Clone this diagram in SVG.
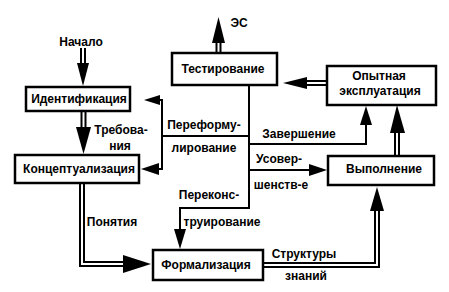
<svg xmlns="http://www.w3.org/2000/svg" width="449" height="292" viewBox="0 0 449 292">
<style>
  .box { fill: #fff; stroke: #000; stroke-width: 2.5; }
  .t { font-family: "Liberation Sans", Arial, sans-serif; font-size: 12px; font-weight: bold; fill: #000; text-anchor: middle; }
  .line { fill: none; stroke: #000; stroke-width: 2; }
  .dblo { fill: none; stroke: #000; stroke-width: 6; stroke-linejoin: miter; }
  .dbli { fill: none; stroke: #fff; stroke-width: 2; stroke-linejoin: miter; }
  .head { fill: #000; stroke: none; }
</style>
<rect width="449" height="292" fill="#fff"/>
<g id="connectors">
  <!-- double connectors -->
  <path class="dblo" d="M83,48 V64"/><path class="dbli" d="M83,48 V64"/>
  <polygon class="head" points="77,63 89,63 83,86"/>
  <path class="dblo" d="M83.5,112 V128"/><path class="dbli" d="M83.5,112 V128"/>
  <polygon class="head" points="76,127 91,127 83.5,154"/>
  <path class="dblo" d="M82,184 V264 H124"/><path class="dbli" d="M82,184 V264 H124"/>
  <polygon class="head" points="123,255 123,273 151,264"/>
  <path class="dblo" d="M264,265 H377 V210"/><path class="dbli" d="M264,265 H377 V210"/>
  <polygon class="head" points="370,211 384,211 377,187"/>
  <path class="dblo" d="M397,155 V132"/><path class="dbli" d="M397,155 V132"/>
  <polygon class="head" points="390,133 405,133 397,105"/>
  <path class="dblo" d="M326,83 H306"/><path class="dbli" d="M326,83 H306"/>
  <polygon class="head" points="307,77 307,89 283,83"/>
  <path class="dblo" d="M218.5,52 V42"/><path class="dbli" d="M218.5,52 V42"/>
  <polygon class="head" points="212,43 225,43 218.5,17"/>
  <!-- single connectors -->
  <path class="line" d="M249,86 V208 H180 V230"/>
  <polygon class="head" points="174,229 186,229 180,249"/>
  <path class="line" d="M249,136 H162"/>
  <path class="line" d="M159,100 H162 V169 H158"/>
  <polygon class="head" points="160,95 160,105 144,100"/>
  <polygon class="head" points="159,163 159,175 141,169"/>
  <path class="line" d="M249,144 H366 V124"/>
  <polygon class="head" points="360,125 372,125 366,106"/>
  <path class="line" d="M249,170 H310"/>
  <polygon class="head" points="309,164 309,176 327,170"/>
</g>
<g id="testirovanie"><rect class="box" x="172" y="53" width="105" height="32"/><text class="t" x="223" y="73">Тестирование</text></g>
<g id="opytnaya"><rect class="box" x="327" y="66" width="109" height="39"/><text class="t" x="379" y="80">Опытная</text><text class="t" x="380" y="95">эксплуатация</text></g>
<g id="identifikatsiya"><rect class="box" x="26" y="87" width="104" height="24"/><text class="t" x="79" y="103">Идентификация</text></g>
<g id="kontseptualizatsiya"><rect class="box" x="15" y="155" width="124" height="28"/><text class="t" x="79" y="173">Концептуализация</text></g>
<g id="vypolnenie"><rect class="box" x="328" y="156" width="106" height="29"/><text class="t" x="384" y="173">Выполнение</text></g>
<g id="formalizatsiya"><rect class="box" x="153" y="250" width="110" height="30"/><text class="t" x="206" y="269">Формализация</text></g>
<g id="labels">
  <text class="t" x="81" y="46">Начало</text>
  <text class="t" x="239" y="27">ЭС</text>
  <text class="t" x="121" y="134">Требова-</text>
  <text class="t" x="120" y="150">ния</text>
  <text class="t" x="204" y="129">Переформу-</text>
  <text class="t" x="204" y="152">лирование</text>
  <text class="t" x="299" y="138">Завершение</text>
  <text class="t" x="279" y="163">Усовер-</text>
  <text class="t" x="281" y="189">шенств-е</text>
  <text class="t" x="209" y="199">Переконс-</text>
  <text class="t" x="222" y="226">труирование</text>
  <text class="t" x="112" y="226">Понятия</text>
  <text class="t" x="304" y="258">Структуры</text>
  <text class="t" x="306" y="280">знаний</text>
</g>
</svg>
